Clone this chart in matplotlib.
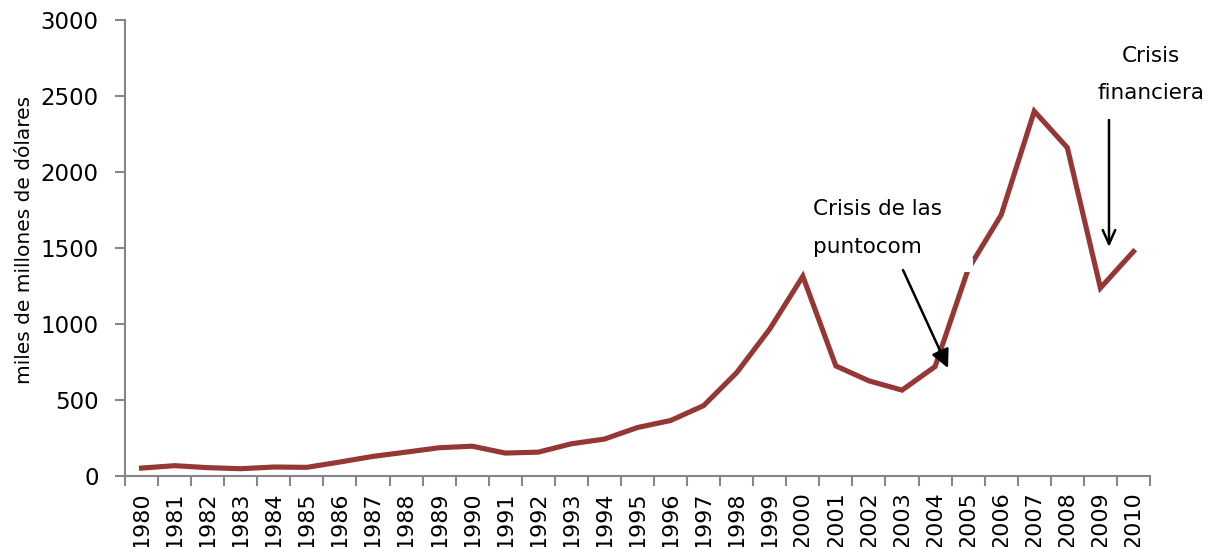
import matplotlib
matplotlib.use("Agg")
import matplotlib.pyplot as plt
from matplotlib.patches import Rectangle

# Annual values, miles de millones de dólares
years = list(range(1980, 2011))
values = [52, 68, 55, 48, 59, 57, 92, 129, 157, 186, 196, 151, 157, 212, 243,
          319, 365, 463, 680, 967, 1314, 724, 626, 565, 720, 1360, 1718, 2400,
          2160, 1237, 1477]

ytick_values = [0, 500, 1000, 1500, 2000, 2500, 3000]
ylabel_text = "miles de millones de dólares"
note_dotcom = ["Crisis de las", "puntocom"]
note_financial = ["Crisis", "financiera"]

line_color = "#953735"
axis_color = "#868686"
font = "DejaVu Sans"

W, H = 1215, 547
fig = plt.figure(figsize=(W / 100, H / 100), dpi=100)
ax = fig.add_axes([125 / W, 1 - 476 / H, (1150 - 125) / W, (476 - 20) / H])

x = list(range(len(years)))
ax.plot(x, values, color=line_color, lw=3.7, solid_joinstyle="miter", zorder=3)

ax.set_xlim(-0.5, len(years) - 0.5)
ax.set_ylim(0, 3000)

for side in ("top", "right"):
    ax.spines[side].set_visible(False)
for side in ("left", "bottom"):
    ax.spines[side].set_color(axis_color)
    ax.spines[side].set_linewidth(1.5)

ax.set_yticks(ytick_values)
ax.set_yticklabels([str(v) for v in ytick_values], fontsize=16.5, family=font)
ax.tick_params(axis="y", direction="out", length=7, width=1.5,
               color=axis_color, pad=12)

ax.set_xticks(x)
ax.set_xticklabels([str(y) for y in years], rotation=90, fontsize=16,
                   family=font)
ax.set_xticks([i - 0.5 for i in range(len(years) + 1)], minor=True)
ax.tick_params(axis="x", which="major", length=0, pad=11)
ax.tick_params(axis="x", which="minor", direction="out", length=7, width=1.5,
               color=axis_color)

fig.text(25 / W, 1 - 240 / H, ylabel_text, rotation=90, ha="center",
         va="center", fontsize=14.5, family=font)

# Small white box that interrupts the line near 2005
fig.patches.append(Rectangle((958 / W, 1 - 272 / H), 15 / W, 14 / H,
                             transform=fig.transFigure, facecolor="white",
                             edgecolor="none", zorder=5))


def px(xp, yp):
    """Pixel position -> data coordinates of the axes."""
    step = (1150 - 125) / len(years)
    return (xp - 125) / step - 0.5, (476 - yp) * 3000 / 456


# Dot-com crisis note
tx, ty = px(813, 215)
ax.text(tx, ty, note_dotcom[0], ha="left", va="baseline", fontsize=15.5,
        family=font, clip_on=False)
tx, ty = px(813, 253)
ax.text(tx, ty, note_dotcom[1], ha="left", va="baseline", fontsize=15.5,
        family=font, clip_on=False)
ax.annotate("", xy=px(948, 368), xytext=px(903, 270),
            arrowprops=dict(arrowstyle="-|>,head_length=1.1,head_width=0.55",
                            color="black", lw=1.8, shrinkA=0, shrinkB=0),
            annotation_clip=False, zorder=6)

# Financial crisis note
tx, ty = px(1151, 62)
ax.text(tx, ty, note_financial[0], ha="center", va="baseline", fontsize=15.5,
        family=font, clip_on=False)
tx, ty = px(1151, 99)
ax.text(tx, ty, note_financial[1], ha="center", va="baseline", fontsize=15.5,
        family=font, clip_on=False)
ax.annotate("", xy=px(1109, 247), xytext=px(1109, 120),
            arrowprops=dict(arrowstyle="->,head_length=1.0,head_width=0.45",
                            color="black", lw=1.8, shrinkA=0, shrinkB=0),
            annotation_clip=False, zorder=6)

fig.savefig("out.png", dpi=100, facecolor="white")
